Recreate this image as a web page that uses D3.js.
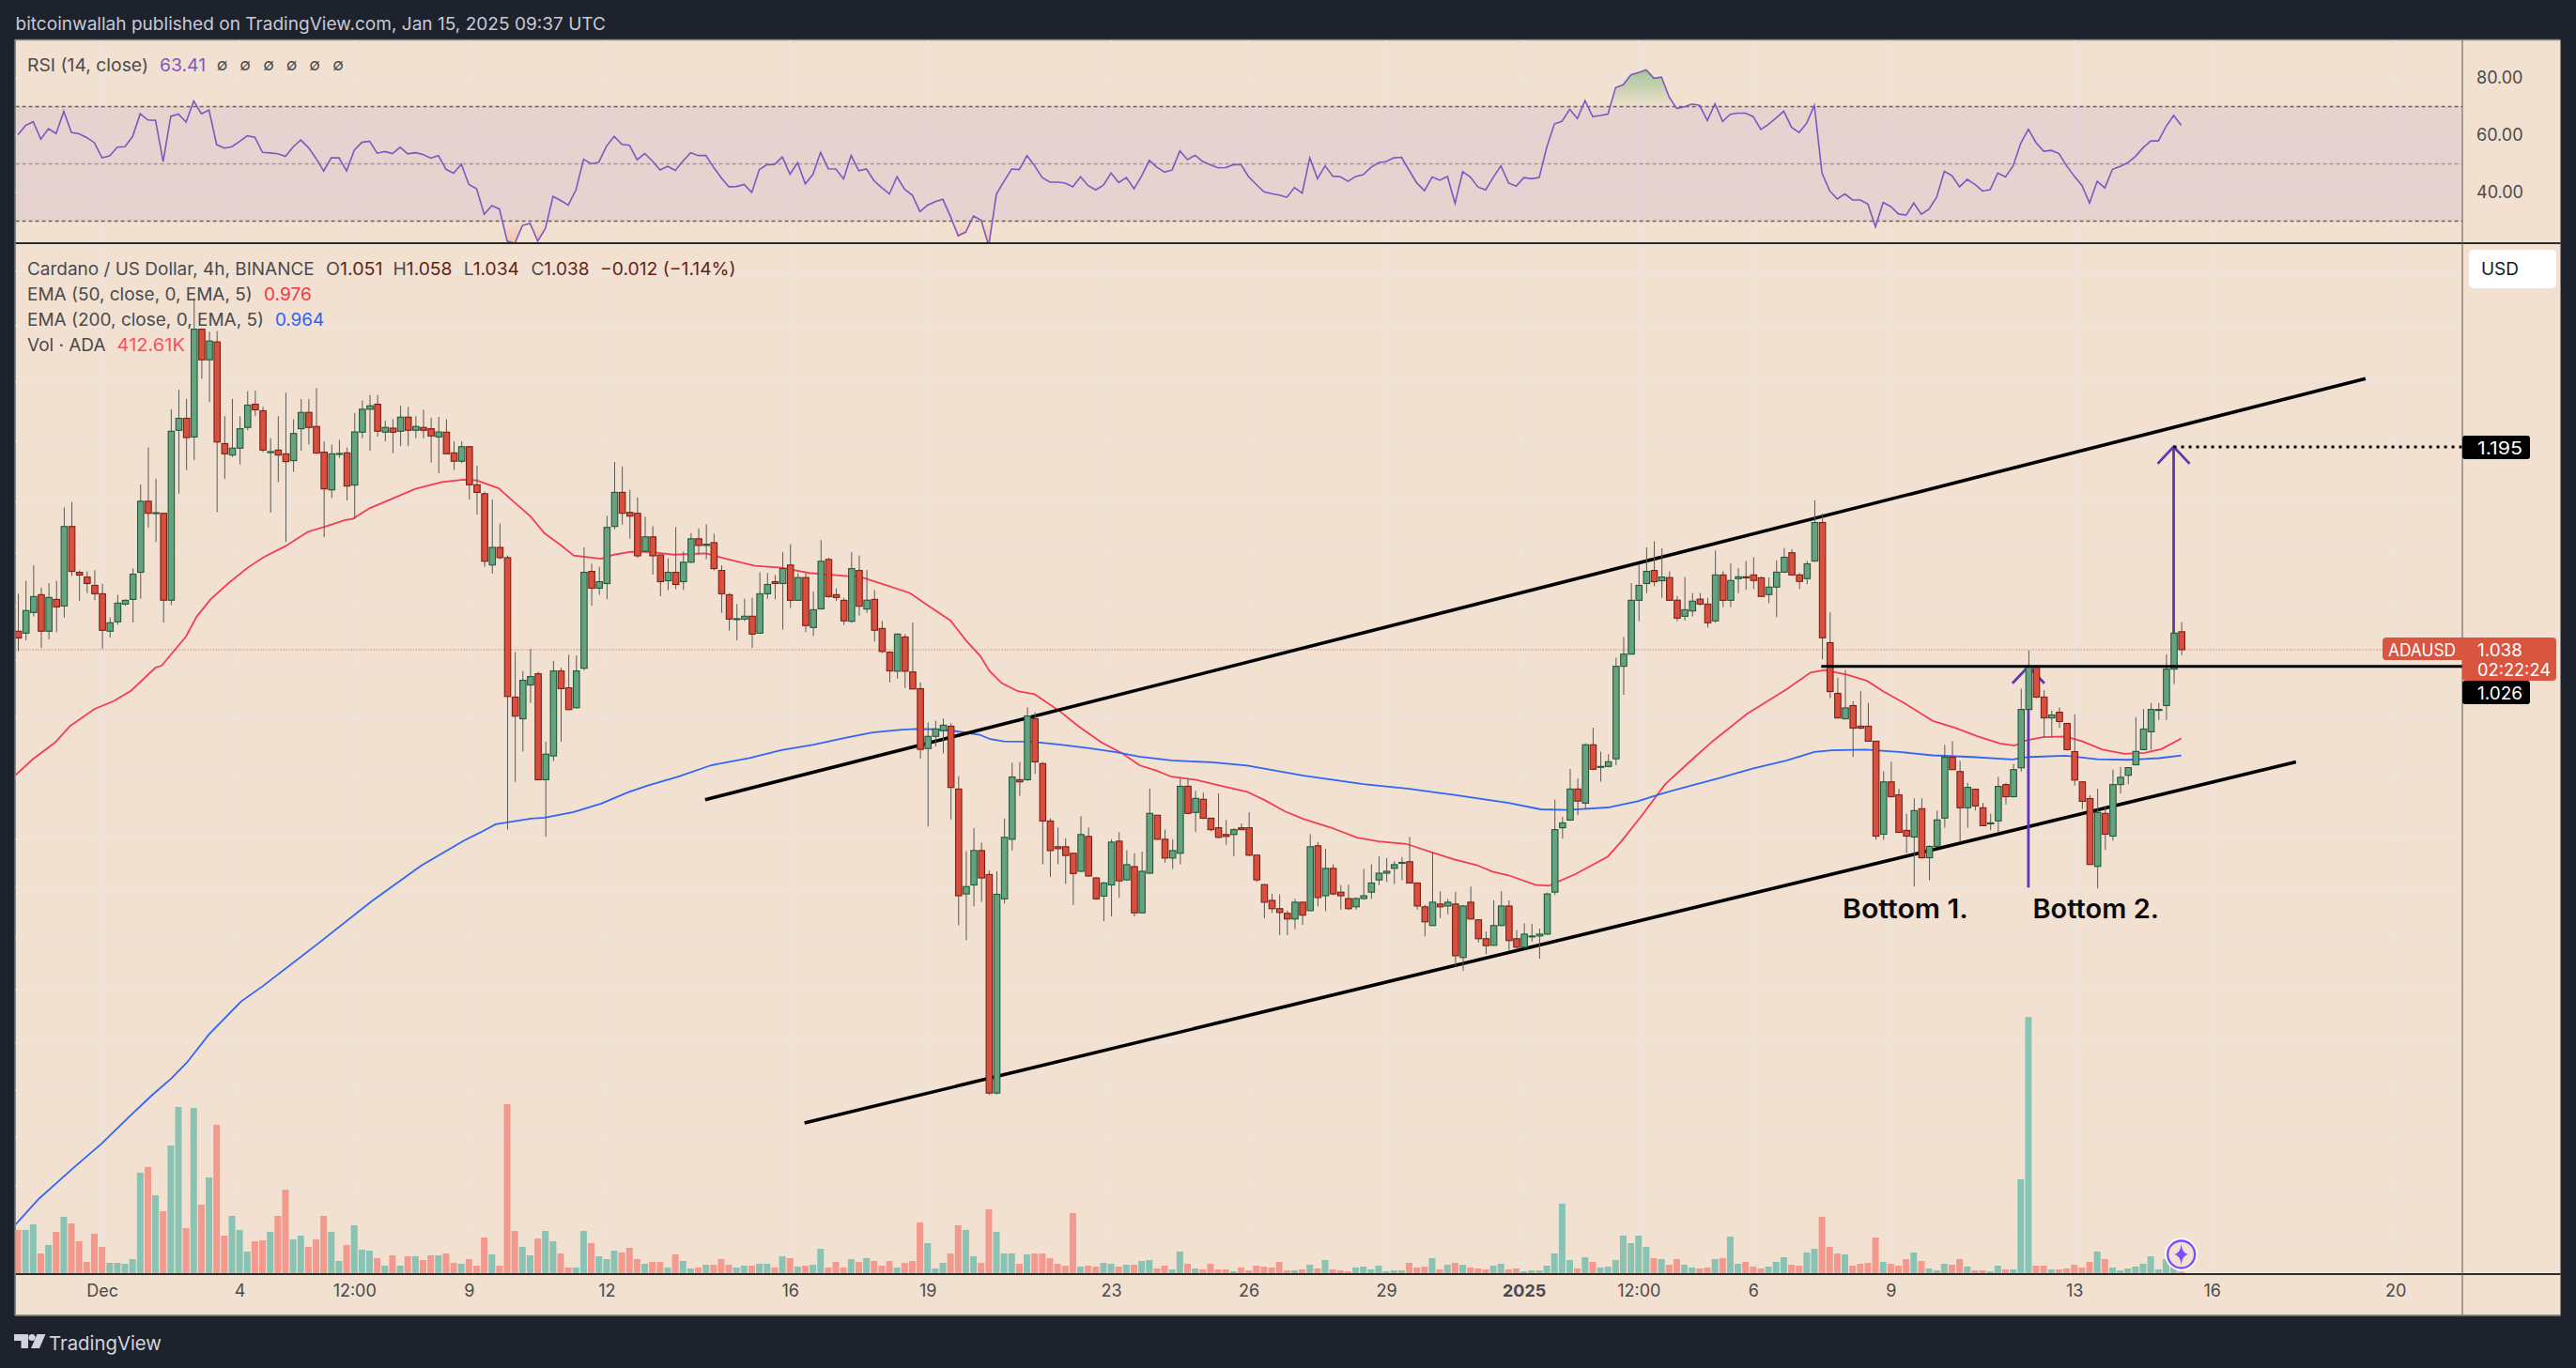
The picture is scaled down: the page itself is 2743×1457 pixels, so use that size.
<!DOCTYPE html>
<html><head><meta charset="utf-8">
<script src="https://cdn.jsdelivr.net/npm/d3@7/dist/d3.min.js"></script>
<style>
html,body{margin:0;padding:0;background:#1e222d;overflow:hidden}
svg{display:block}
text{font-family:Inter,"Noto Sans",sans-serif}
</style></head><body><svg id="c" width="2743" height="1457"></svg>
<script>
const firstBar=-11; // bars counted from Dec 1 00:00, one per 4 hours
const directions="rggrgrgrrrr"+"rgggggrgrg"+"grgrgrrggg"+"rrgrrggrrr"+"ggrgggrgrg"+"rgrrgrrgrr"+"rgrrrggrgg"+"rrggrgggrr"+"rgrrgrggrg"+"rrrggrggrg"+"rgrggrrrgr"+"grrrgrrrgg"+"grrggrrggg"+"rgrrrrrrgr"+"rggrgrggrr"+"ggrgrrrrgr"+"rrrrrrgrgr"+"grrrgggggg"+"grrrgrgrgr"+"rrggrrgggg"+"gggrgrgggg"+"gggrgrrggr"+"rgrggrrrgg"+"grrggrrrgr"+"rrrgrrrgrg"+"ggrrgrrggr"+"gggrrgrrrr"+"rgrggggggg"+"ggr";
const bodyTop=[1.0514,1.0666,1.0770,1.0784,1.0763,1.0749,1.1307,1.1307,1.0953,1.0917,1.0854,
1.0791,1.0576,1.0721,1.0742,1.0939,1.1507,1.1507,1.1416,1.1411,1.2080,
1.2189,1.2189,1.2967,1.2967,1.2861,1.2853,1.1977,1.1939,1.2101,1.2301,
1.2309,1.2253,1.1910,1.1923,1.1892,1.2061,1.2239,1.2239,1.2120,1.1906,
1.1892,1.1895,1.1900,1.2074,1.2266,1.2295,1.2309,1.2112,1.2106,1.2199,
1.2199,1.2120,1.2112,1.2101,1.2074,1.2072,1.1900,1.1951,1.1951,1.1639,
1.1567,1.1144,1.1144,1.1065,1.0044,1.0162,1.0188,1.0208,.9654,1.0228,
1.0228,1.0109,1.0228,1.0953,1.0960,1.0882,1.1300,1.1578,1.1578,1.1418,
1.1411,1.1226,1.1226,1.1086,1.0953,1.0953,1.1030,1.1211,1.1211,1.1169,
1.1181,1.0967,1.0784,1.0606,1.0624,1.0624,1.0791,1.0861,1.0882,1.0981,
1.1009,1.0913,1.0913,1.0672,1.1037,1.1051,1.0784,1.0742,1.0981,1.0967,
1.0743,1.0749,1.0534,1.0362,1.0493,1.0472,1.0221,1.0103,.9774,.9824,
.9850,.9843,.9423,.8806,.9029,.9029,.8880,.8759,.9112,.9502,
.9484,.9913,.9894,.9591,.9216,.9053,.9053,.9012,.9130,.9118,
.8859,.8828,.9082,.9088,.8941,.8929,.8900,.9265,.9253,.91,
.9029,.9441,.9441,.9362,.9356,.9234,.9173,.9130,.9161,.9173,
.9173,.9000,.8818,.8722,.8672,.8644,.8711,.8711,.9053,.9059,
.8918,.8918,.8772,.8733,.8733,.8750,.8828,.8888,.8900,.8941,
.8955,.8959,.8828,.8683,.8711,.8700,.8711,.8700,.8688,.8711,
.8605,.8493,.8571,.8688,.8688,.8493,.8520,.8509,.8520,.8761,
.9161,.9204,.9423,.9423,.9717,.9717,.9572,.9603,1.0261,1.0348,
1.0742,1.0854,1.0960,1.0967,1.0917,1.0913,1.0743,1.0672,1.0736,1.0751,
1.0714,1.0933,1.0933,1.0891,1.0919,1.0919,1.0933,1.0911,1.0841,1.0954,
1.1068,1.1103,1.0933,1.1018,1.1338,1.1338,1.0431,1.0070,.9969,.9985,
.9843,.9843,.9741,.9470,.9470,.9385,.9156,.9283,.9295,.9055,
.9223,.9633,.9633,.9538,.9434,.9422,.9301,.9204,.9440,.9452,
.9551,.9958,1.0261,1.0261,1.0044,.9920,.9939,.9862,.9671,.9470,
.9361,.9271,.9265,.9452,.95,.9564,.9672,.9824,.9958,.9958,
1.0241,1.05,1.051];
const bodyBottom=[1.0465,1.0500,1.0652,1.0514,1.0514,1.0693,1.0700,1.0960,1.0932,1.0868,1.0791,
1.0521,1.0514,1.0583,1.0714,1.0749,1.0953,1.1411,1.1411,1.0743,1.0743,
1.2088,1.2027,1.2032,1.2694,1.2694,1.1990,1.1892,1.1882,1.1939,1.2112,
1.2261,1.1923,1.1903,1.1882,1.1828,1.1836,1.2101,1.2112,1.1898,1.1606,
1.1598,1.1890,1.1629,1.1637,1.2072,1.2266,1.2080,1.2072,1.2072,1.2080,
1.2088,1.2088,1.2088,1.2040,1.2032,1.1892,1.1831,1.1831,1.1639,1.1578,
1.1037,1.1009,1.1065,1.0048,.9912,.9894,1.0129,.9484,.9484,.9642,
1.0103,.9957,.9970,1.0247,1.0833,1.0833,1.0868,1.1307,1.1411,1.1389,
1.1079,1.1115,1.1079,1.0882,1.0889,1.0861,1.0882,1.1030,1.1159,1.1159,
1.0981,1.0791,1.0603,1.0601,1.0603,1.0493,1.0500,1.0791,1.0868,1.0868,
1.0742,1.0742,1.0555,1.0541,1.0679,1.0770,1.0763,1.0590,1.0587,1.0698,
1.0677,1.0521,1.0367,1.0228,1.0226,1.0226,1.0101,.9686,.9692,.9774,
.9812,.9433,.8750,.8761,.8816,.8859,.763,.763,.8731,.91,
.9470,.9484,.9602,.9216,.9029,.9041,.8998,.8886,.8900,.8871,
.8731,.8748,.8816,.8841,.8847,.8647,.8647,.8888,.91,.8982,
.8982,.9012,.9265,.9271,.9234,.9161,.9112,.9118,.9130,.9161,
.9000,.8847,.8711,.8672,.8649,.8610,.8610,.8633,.8660,.8739,
.8750,.8761,.8750,.8672,.8683,.8733,.8772,.8847,.8888,.8918,
.8951,.8828,.8688,.8593,.8571,.8683,.8688,.8393,.8383,.8610,
.8493,.8452,.8454,.8571,.8482,.8443,.8443,.8504,.8509,.8520,
.8772,.9173,.9222,.9344,.9331,.9553,.9566,.9572,.9623,1.0261,
1.0348,1.0742,1.0868,1.0882,1.0889,1.0742,1.0610,1.0624,1.0663,1.0714,
1.0576,1.0590,1.0742,1.0742,1.0905,1.0911,1.0891,1.0771,1.0785,1.0841,
1.0954,1.0933,1.0884,1.0905,1.1039,1.0466,1.0083,.99,.9894,.9830,
.9830,.9741,.9120,.9132,.9373,.9144,.9120,.9114,.8984,.8984,
.9055,.9235,.9551,.9301,.9301,.9313,.9186,.9198,.9217,.9373,
.9373,.9563,.9958,1.0044,.99,.99,.9875,.9684,.9482,.9343,
.8942,.8930,.9132,.9120,.9452,.9513,.9583,.9684,.9805,.9956,
.9985,1.0241,1.038];
const highs=[1.0791,1.0889,1.1006,1.0838,1.0871,1.0889,1.1458,1.1502,1.0967,1.0960,1.0969,
1.0866,1.0615,1.0784,1.0749,1.0983,1.1642,1.1944,1.1688,1.1414,1.2266,
1.2433,1.2354,1.325,1.2967,1.2944,1.2950,1.2207,1.2354,1.2207,1.2420,
1.2426,1.2287,1.2021,1.2207,1.2407,1.2181,1.2354,1.2354,1.2447,1.1995,
1.1969,1.2008,1.1944,1.2234,1.2340,1.2388,1.2388,1.2168,1.2181,1.2295,
1.2287,1.2207,1.2261,1.2194,1.2202,1.2181,1.1995,1.1995,1.1956,1.1795,
1.1582,1.1520,1.1330,1.1081,1.0364,1.0228,1.0385,1.0223,.9738,1.03,
1.0250,1.0344,1.0339,1.1144,1.1018,1.0995,1.1391,1.1826,1.1788,1.1599,
1.1537,1.1384,1.1310,1.1088,1.1060,1.1302,1.1112,1.1255,1.1292,1.1324,
1.1250,1.1006,1.0796,1.0714,1.0754,1.0761,1.0953,1.0948,1.0932,1.1107,
1.1169,1.0946,1.0946,1.0807,1.1201,1.1065,1.0831,1.0761,1.1107,1.1081,
1.0971,1.0819,1.0590,1.0369,1.0500,1.0493,1.0578,1.0147,.9869,.9881,
.9896,.9864,.9506,.9026,.9171,.9080,.8904,.8900,.9232,.9596,
.9601,.9973,.9938,.9601,.9234,.9175,.9106,.9012,.9248,.9175,
.8865,.8834,.91,.9145,.9031,.9012,.9022,.9425,.9253,.9161,
.91,.9496,.9490,.9411,.9399,.9234,.9395,.9222,.9171,.9201,
.9273,.9000,.8818,.8763,.8759,.8660,.8731,.8711,.9132,.9082,
.9041,.8943,.8815,.8817,.8740,.8914,.8943,.8992,.8982,.8963,
.8988,.9114,.8828,.8694,.9022,.8778,.8731,.8774,.8694,.8806,
.8605,.8535,.8722,.8778,.8722,.8544,.8584,.8580,.8553,.8768,
.9354,.9242,.9555,.9492,.9728,.9833,.9671,.9654,1.0323,1.0472,
1.0871,1.1013,1.1144,1.1191,1.1137,1.0960,1.0775,1.0917,1.0796,1.0796,
1.0761,1.1120,1.0961,1.1020,1.0985,1.1039,1.1068,1.0921,1.0914,1.1044,
1.1139,1.1131,1.0949,1.1039,1.1514,1.1409,1.0652,1.0180,1.0234,1.0015,
1.0085,1.0004,.9741,.9540,.9604,.9424,.9263,.9363,.9363,.9063,
.9283,.9716,.9741,.9609,.9464,.9424,.9333,.9263,.9504,.9464,
.9589,1.0103,1.0374,1.0267,1.0092,.9950,.9972,.9864,.9924,.9470,
.9383,.9424,.9313,.9551,.9568,.9568,.9906,.9961,1.0004,1.0004,
1.0347,1.0576,1.058];
const lows=[1.0369,1.0449,1.0622,1.0392,1.0456,1.0507,1.0615,1.0925,1.0737,1.0796,1.0744,
1.0387,1.0468,1.0562,1.0702,1.0578,1.0754,1.1297,1.1186,1.0578,1.0706,
1.1567,1.1759,1.1841,1.2528,1.2327,1.1421,1.1688,1.1867,1.1805,1.2088,
1.2207,1.1905,1.1416,1.1662,1.1186,1.1744,1.1918,1.1969,1.1892,1.1223,
1.1533,1.1859,1.1513,1.1364,1.2021,1.1918,1.2035,1.1995,1.1898,1.1956,
1.1956,1.2021,1.2021,1.1821,1.1734,1.1887,1.1759,1.1816,1.1521,1.1401,
1.0995,1.0943,1.1053,.9161,.9470,.9671,1.0004,.9480,.9116,.9608,
.9738,.9955,.9965,1.0234,1.0702,1.0784,1.0749,1.1285,1.1322,1.1211,
1.1063,1.1107,1.0936,1.0773,1.0819,1.0826,1.0819,1.1023,1.1088,1.1053,
1.0967,1.0649,1.0518,1.0448,1.0587,1.0392,1.0495,1.0754,1.0749,1.0525,
1.0686,1.0737,1.0507,1.0479,1.0672,1.0761,1.0737,1.0560,1.0576,1.0629,
1.0649,1.0438,1.0357,1.0147,1.0173,1.0107,1.0101,.9623,.9181,.9707,
.9659,.9226,.8573,.8484,.8685,.8713,.762,.7622,.8703,.9029,
.9378,.9476,.9523,.8943,.8865,.8943,.8822,.8694,.8894,.8865,
.8726,.8597,.8625,.8737,.8841,.8625,.8642,.8884,.9096,.8953,
.8914,.8943,.9258,.9147,.9228,.9151,.9106,.9065,.8992,.9157,
.8992,.8835,.8614,.8647,.8515,.8515,.8549,.8575,.8657,.8685,
.8657,.8754,.8666,.8664,.8666,.8727,.8731,.8815,.8834,.8822,
.8846,.8828,.8666,.8507,.8571,.8616,.8638,.8333,.8306,.8607,
.8471,.8403,.8452,.8567,.8425,.8434,.8438,.8476,.8376,.8516,
.8755,.9104,.9218,.9253,.9293,.9548,.9472,.9566,.9580,1.0060,
1.0345,1.0587,1.0796,1.0847,1.0761,1.0737,1.0587,1.0592,1.0622,1.0702,
1.0541,1.0576,1.0691,1.0691,1.0796,1.0820,1.0827,1.0766,1.0721,1.0617,
1.0949,1.0926,1.0827,1.0863,1.1032,1.0312,1.0037,.9896,.9889,.9635,
.9822,.9741,.9096,.9096,.9367,.9142,.9013,.8806,.8978,.8845,
.9049,.9173,.9547,.9082,.9173,.9283,.9182,.9158,.9142,.9323,
.9367,.9537,.9950,1.0037,.9766,.9768,.9832,.9679,.9444,.9293,
.8940,.8796,.9033,.9092,.9394,.9454,.9579,.9680,.9684,.9885,
.9885,1.0136,1.034];
const volumes=[11.04,11.04,12.48,5.04,7.2,10.56,14.4,12.72,8.16,2.88,10.08,
6.72,2.64,2.64,2.4,3.6,25.68,27.12,19.92,15.84,32.64,
42.48,11.52,42.24,17.52,24.48,37.92,9.6,14.64,11.04,5.52,
8.16,8.4,10.56,14.64,21.36,8.64,9.6,6.72,8.64,14.64,
10.56,3.12,7.2,12.24,6,5.76,3.84,1.92,4.56,1.92,
4.32,4.32,3.36,4.56,4.56,5.04,2.64,2.4,3.6,1.92,
9.12,4.8,1.92,43.2,10.8,6.72,4.56,8.88,10.8,8.16,
5.04,1.44,1.44,10.8,7.68,4.32,3.6,5.76,5.28,6.48,
3.6,2.4,2.88,2.88,1.44,4.8,3.12,1.2,1.44,2.16,
2.16,3.6,2.16,1.44,1.92,1.92,2.4,2.4,1.44,4.32,
3.84,1.68,1.92,2.16,6.24,1.44,2.88,1.44,3.6,2.88,
3.84,3.12,1.92,3.12,1.44,2.64,3.12,12.96,7.68,1.2,
2.64,5.04,12.24,11.04,4.32,2.64,16.32,10.56,5.04,5.04,
2.4,4.8,5.04,5.04,3.84,2.4,1.92,15.36,1.68,1.92,
1.68,2.64,2.4,1.68,2.16,2.16,3.12,3.36,1.2,1.92,
.96,5.52,2.4,1.2,.96,2.4,.96,.96,.48,1.44,
.72,1.92,1.68,1.44,2.88,.72,.72,.96,2.16,1.2,
3.36,.96,.72,.48,1.44,1.68,.96,1.92,.48,.72,
.72,2.64,1.44,1.68,3.84,.96,2.16,2.64,2.16,1.44,
1.2,.96,1.92,2.4,.96,1.2,.48,.72,.72,1.92,
5.04,17.76,3.36,1.2,4.08,2.88,1.44,1.68,3.36,9.6,
7.68,9.6,6.72,3.84,3.6,2.16,3.6,2.16,1.44,1.2,
1.44,3.6,3.84,9.36,2.4,2.88,1.68,1.2,1.68,2.88,
4.08,2.16,1.92,5.28,6.24,14.4,6.72,5.04,4.8,1.92,
2.4,2.64,9.12,2.88,2.4,1.92,3.6,5.28,3.12,1.2,
.72,2.4,2.16,3.6,1.68,.72,.72,.48,1.92,.96,
.96,24,65.52,1.92,1.92,.96,.96,1.2,2.16,1.44,
2.88,5.52,3.6,1.44,.72,1.2,1.68,2.4,4.32,.96,
3.6,2.4,.41];
const rsi=[60.2,63.4,64.7,58.6,62.3,60.6,68.3,61,60.5,59.2,57.4,
52.1,52.8,55.8,56,59.5,67.5,65.3,65.2,50.8,66.6,
67.4,64.6,71.9,67.5,68.8,56.7,55.5,56,57.8,59.8,
59.3,54,53.8,53.5,52.6,55.9,58.3,55.7,51.9,47.5,
52.1,52.1,47.5,54.8,57.5,57.9,53.7,54.3,53.6,55.8,
53.5,53.9,53.3,52,52.9,48.1,46.7,49.9,42.8,41.3,
32.4,35.4,34.2,23,22.2,28.5,29.2,23,27.4,38.6,
37.2,35.6,40.9,51.6,50,50.6,56.2,59.6,56.8,56.5,
51.4,53.6,51,47.9,49.1,47.7,51,53.9,52.9,52.9,
48.8,45.2,42,42.1,42.8,40,48,49.7,49.8,52.4,
46.4,50.4,43,46.3,54,48.3,48.2,44.7,52.9,47.6,
48.2,44.1,41.7,39.5,45.5,41.1,39.1,33.3,35.6,36.8,
37.6,31.6,24.9,26.2,31.8,30.3,21.4,39.5,43.9,48.2,
48,52.9,49.3,45.2,43.6,43.6,43.3,42,45.5,42.4,
40.9,42.6,46.8,43.5,45.2,41.3,45.8,51.2,48.8,47.1,
47.9,54.5,51.5,53,50.8,49.7,48.6,48.7,49.7,49.7,
45.5,42.8,40.2,39.6,39.1,38.3,41.7,39.8,52.1,44.8,
49.3,45.7,45.5,43.9,45.6,46.2,48.8,50.4,50.8,52.1,
52.3,47.7,43.3,40.6,45.4,44.3,45.6,36.2,47.3,45.4,
41.9,40.9,45.3,49.3,43.3,42.2,45.2,44.8,45.2,55.9,
63.9,64.9,69,65.8,72.1,66.5,66.9,67.4,76.6,77.6,
81.1,81.9,82.8,79.9,80.3,73.4,69.3,69.9,70.9,70.4,
65.1,71,64.8,67.3,67.7,67.7,66.5,62,63.8,66,
68.4,62.8,60.9,64.2,70.4,46.8,40.6,37.7,39.5,37.4,
37.4,36,28,36.5,35.1,32.5,32.1,36.3,32.4,34.2,
38.4,47.4,45.9,42,44.6,42.8,40.5,41,46.8,45.4,
49.3,57.2,62.1,57.4,54.4,54.7,53.6,49.3,45.7,42.5,
36.3,43.9,41.6,48.1,49.1,50.4,52.6,55.6,58,58,
63,66.9,63.41];
const ema50Bars=[-11.4,-9,-6.1,-4.2,-1,1.5,3.8,7,7.8,9.6,11,12.4,14.2,16.6,19.1,21.2,24,26.9,29,31.8,32.8,35,37.4,41,44.5,47.3,49,51.9,54,56.1,57.9,60,61.7,65.3,67,69.2,72,74.8,79,81.5,85.4,88.9,92.5,97.2,99.3,102.9,105.7,107.8,111,113,114.9,116.1,117.7,119.8,122,125.4,127.6,130.7,133.5,135.7,137.8,139.9,143,146.6,149.8,152.2,154.7,157.2,160.7,164.2,167,170.6,174.1,176.9,179.8,181.9,184,187.5,189.3,192.8,197,198.8,201.6,204.5,207.8,210.7,215.2,220.3,223.5,225.3,228.3,230.9,233.1,235.7,239.5,242.4,245.3,248.3,250.2,251.7,253.9,256.8,259,261.7,264.6,267.2,269.4,272];
const ema50Values=[.9511,.9622,.9734,.9843,.9961,1.0016,1.0088,1.0252,1.0265,1.0383,1.0477,1.0622,1.0749,1.0873,1.0990,1.1070,1.1154,1.1265,1.1302,1.1357,1.1367,1.1451,1.1512,1.1606,1.1662,1.1680,1.1675,1.1611,1.1495,1.1384,1.1253,1.1162,1.1081,1.1056,1.1088,1.1110,1.1107,1.1088,1.1098,1.1058,1.1002,1.0988,1.0948,1.0925,1.0917,1.0850,1.0796,1.0714,1.0592,1.0449,1.0334,1.0228,1.0142,1.0085,1.0064,.9942,.9848,.9734,.9658,.9580,.9547,.9504,.9484,.9441,.9405,.9348,.9279,.9228,.9175,.9110,.9086,.9071,.9016,.8973,.8939,.8898,.8875,.8817,.8811,.8884,.8992,.9090,.9262,.9455,.9608,.9741,.9928,1.0096,1.0217,1.0234,1.0201,1.0158,1.0081,1.0004,.9879,.9832,.9775,.9726,.9711,.9747,.9769,.9773,.9741,.9684,.9656,.9663,.9688,.9760];
const ema200Bars=[-11.3,-8.25,-3.67,-.1,3.5,6.5,9.1,11.1,14,18.2,21.1,28,35.3,41.7,47.3,49.4,51.5,56.1,57.9,61.7,65.3,68.8,71.3,75.5,79.7,84.7,88.9,93.1,97.2,100.8,104.3,106.4,108.9,111.3,114.8,116.2,118,121.5,125.4,128.9,132.5,135.7,139.9,145.2,149.8,157.2,165,171,176.9,184,188.2,191.7,197,200.9,203.7,207.8,211.5,215.9,220.3,224,226.3,230.7,235.1,239.5,244.7,249.9,252.1,256.9,261,265,269.1,272];
const ema200Values=[.6964,.7090,.7246,.7365,.7503,.7617,.7709,.7793,.7947,.8131,.8220,.8455,.8717,.8933,.9090,.9141,.9195,.9232,.9238,.9273,.9328,.9401,.9445,.9506,.9580,.9628,.9682,.9717,.9763,.9801,.9818,.9824,.9822,.9812,.9785,.9755,.9740,.9738,.9717,.9696,.9669,.9637,.9612,.9599,.9578,.9511,.9455,.9425,.9384,.9333,.9291,.9287,.9303,.9344,.9388,.9445,.9494,.9557,.9610,.9669,.9680,.9684,.9669,.9646,.9635,.9618,.9635,.9643,.9620,.9616,.9627,.9645];
const priceTicks=[1.35,1.30,1.25,1.20,1.15,1.11,1.07,1.03,.99,.95,.91,.88,.85,.82,.79,.765,.74,.715,.693,.673];
const hiddenPriceLabels=[1.35,1.03];
const rsiTicks=[80,60,40];
const dateTickBars=[0,18,33,48,66,90,108,132,150,168,186,201,216,234,258,276,300];
const dateTickLabels=["Dec","4","12:00","9","12","16","19","23","26","29","2025","12:00","6","9","13","16","20"];
const upperChannelBars=[78.9,296.1], upperChannelPrices=[.9354,1.2529];
const lowerChannelBars=[91.9,287], lowerChannelPrices=[.7473,.9602];
const necklinePrice=1.026, necklineStartBar=224.9, lastPrice=1.038, targetPrice=1.195;
const measureBar1=252, measureBar2=271, measureLow=.88, measureBase2=1.05;

const W=2743,H=1457,L=16.6,R=2622,T=43,RSIB=259,PB=1357,FB=1400.5,FR=2726.5;
const BG="#f2e0d0",GRID="#ece4e1",TXT="#4b4a4c",UPF="#66a27f",UPB="#1e5b3c",DNF="#d84f3d",DNB="#7d1f18";
const svg=d3.select("#c");
const x=d3.scaleLinear().domain([0,272]).range([108.6,2322.7]);
const y=d3.scaleLog().domain([.673,1.3]).range([1356.7,346.7]);
const yR=d3.scaleLinear().domain([40,80]).range([205,83]);
const yV=d3.scaleLinear().domain([0,65.52]).range([1356,1083]);
const bars=bodyTop.map((t,k)=>({i:firstBar+k,t,b:bodyBottom[k],h:highs[k],l:lows[k],up:directions[k]==="g",v:volumes[k],r:rsi[k]}));

const defs=svg.append("defs");
defs.append("clipPath").attr("id","rsiClip").append("rect").attr("x",L).attr("y",T).attr("width",R-L).attr("height",RSIB-T);
defs.append("clipPath").attr("id","priceClip").append("rect").attr("x",L).attr("y",RSIB).attr("width",R-L).attr("height",PB-RSIB);
defs.append("clipPath").attr("id","axisClip").append("rect").attr("x",R).attr("y",RSIB).attr("width",FR-R).attr("height",PB-RSIB);
const gOB=defs.append("linearGradient").attr("id","ob").attr("gradientUnits","userSpaceOnUse").attr("x1",0).attr("x2",0).attr("y1",yR(83)).attr("y2",yR(70));
gOB.append("stop").attr("offset","0%").attr("stop-color","#6fb36f").attr("stop-opacity",.6);
gOB.append("stop").attr("offset","100%").attr("stop-color","#6fb36f").attr("stop-opacity",.03);
const gOS=defs.append("linearGradient").attr("id","os").attr("gradientUnits","userSpaceOnUse").attr("x1",0).attr("x2",0).attr("y1",yR(30)).attr("y2",yR(22));
gOS.append("stop").attr("offset","0%").attr("stop-color","#f58f7c").attr("stop-opacity",.03);
gOS.append("stop").attr("offset","100%").attr("stop-color","#f58f7c").attr("stop-opacity",.4);
defs.append("clipPath").attr("id","aboveOB").append("rect").attr("x",L).attr("y",T).attr("width",R-L).attr("height",yR(70)-T);
defs.append("clipPath").attr("id","belowOS").append("rect").attr("x",L).attr("y",yR(30)).attr("width",R-L).attr("height",RSIB-yR(30));

// frame
svg.append("rect").attr("width",W).attr("height",H).attr("fill","#1e222d");
svg.append("rect").attr("x",L).attr("y",T).attr("width",FR-L).attr("height",FB-T).attr("fill",BG);
svg.append("path").attr("d",`M${L-.5},${FB+.5}V${T-.5}H${FR}`).attr("fill","none").attr("stroke","#8e8c88").attr("stroke-width",1.5);
svg.append("path").attr("d",`M${L-.5},${FB+.5}H${FR}`).attr("fill","none").attr("stroke","#8e8c88").attr("stroke-width",1.5);

// grid
const gg=svg.append("g").attr("stroke",GRID).attr("stroke-width",1.5);
gg.selectAll("line.v").data(dateTickBars).join("line").attr("x1",d=>x(d)).attr("x2",d=>x(d)).attr("y1",T).attr("y2",PB);
gg.selectAll("line.h").data(priceTicks).join("line").attr("x1",L).attr("x2",R).attr("y1",d=>y(d)).attr("y2",d=>y(d));
gg.selectAll("line.r").data(rsiTicks).join("line").attr("x1",L).attr("x2",R).attr("y1",d=>yR(d)).attr("y2",d=>yR(d));

// RSI pane
const rg=svg.append("g").attr("clip-path","url(#rsiClip)");
rg.append("rect").attr("x",L).attr("y",yR(70)).attr("width",R-L).attr("height",yR(30)-yR(70)).attr("fill","#7e57c2").attr("opacity",.1);
const hl=[[70,"#6c5d60"],[50,"#a3979a"],[30,"#6c5d60"]];
rg.selectAll("line.b").data(hl).join("line").attr("x1",L).attr("x2",R).attr("y1",d=>yR(d[0])).attr("y2",d=>yR(d[0]))
  .attr("stroke",d=>d[1]).attr("stroke-width",1.3).attr("stroke-dasharray","4 3");
const areaOB=d3.area().x(d=>x(d.i)).y0(yR(70)).y1(d=>yR(d.r));
rg.append("g").attr("clip-path","url(#aboveOB)").append("path").datum(bars).attr("d",areaOB).attr("fill","url(#ob)");
rg.append("g").attr("clip-path","url(#belowOS)").append("path").datum(bars).attr("d",areaOB.y0(yR(30))).attr("fill","url(#os)");
rg.append("path").datum(bars).attr("d",d3.line().x(d=>x(d.i)).y(d=>yR(d.r))).attr("fill","none").attr("stroke","#7e57c2").attr("stroke-width",1.6);

// price pane
const pg=svg.append("g").attr("clip-path","url(#priceClip)");
pg.selectAll("rect.vol").data(bars).join("rect").attr("x",d=>x(d.i)-3.5).attr("width",7)
  .attr("y",d=>yV(d.v)).attr("height",d=>yV(0)-yV(d.v)).attr("fill",d=>d.up?"#8ac3b3":"#f3998d");
pg.append("line").attr("x1",L).attr("x2",R).attr("y1",y(lastPrice)).attr("y2",y(lastPrice)).attr("stroke","#d4503c").attr("stroke-width",1).attr("stroke-dasharray","1 2");
const ln=d3.line().x(d=>x(d[0])).y(d=>y(d[1]));
pg.append("path").datum(ema50Bars.map((b,k)=>[b,ema50Values[k]])).attr("d",ln).attr("fill","none").attr("stroke","#f23d52").attr("stroke-width",1.8);
pg.append("path").datum(ema200Bars.map((b,k)=>[b,ema200Values[k]])).attr("d",ln).attr("fill","none").attr("stroke","#2f66f5").attr("stroke-width",1.8);
[[upperChannelBars,upperChannelPrices],[lowerChannelBars,lowerChannelPrices]].forEach(([a,b])=>{
  pg.append("path").datum(a.map((v,k)=>[v,b[k]])).attr("d",ln).attr("fill","none").attr("stroke","#000").attr("stroke-width",3.6);
});
const arrow=(bar,p0,p1)=>{
  const X=x(bar),Y0=y(p0),Y1=y(p1);
  pg.append("line").attr("x1",X).attr("x2",X).attr("y1",Y0).attr("y2",Y1).attr("stroke","#5b3ab0").attr("stroke-width",2.8);
  pg.append("path").attr("d",`M${X-17},${Y1+18}L${X},${Y1}L${X+17},${Y1+18}`).attr("fill","none").attr("stroke","#5b3ab0").attr("stroke-width",2.8);
};
arrow(measureBar1,measureLow,necklinePrice);
arrow(measureBar2,measureBase2,targetPrice);
// candles
pg.selectAll("line.wick").data(bars).join("line").attr("x1",d=>x(d.i)+.5).attr("x2",d=>x(d.i)+.5).attr("y1",d=>y(d.h)).attr("y2",d=>y(d.l)).attr("stroke","#5a5a58").attr("stroke-width",1);
pg.selectAll("rect.c").data(bars).join("rect").attr("x",d=>x(d.i)-2.75).attr("width",6.5)
  .attr("y",d=>y(d.t)).attr("height",d=>Math.max(1,y(d.b)-y(d.t)))
  .attr("fill",d=>d.up?UPF:DNF).attr("stroke",d=>d.up?UPB:DNB).attr("stroke-width",1.1);
// neckline and target
pg.append("line").attr("x1",x(necklineStartBar)).attr("x2",R).attr("y1",y(necklinePrice)).attr("y2",y(necklinePrice)).attr("stroke","#000").attr("stroke-width",3);
pg.append("line").attr("x1",x(measureBar2)).attr("x2",R).attr("y1",y(targetPrice)).attr("y2",y(targetPrice)).attr("stroke","#000").attr("stroke-width",3).attr("stroke-dasharray","3 5");
// text notes
const fit=(e,w)=>e.attr("textLength",w).attr("lengthAdjust","spacingAndGlyphs");
const note=(t,xx,yy,w)=>fit(svg.append("text").attr("x",xx).attr("y",yy).attr("font-size",28).attr("font-weight",600).attr("fill","#0b0b0b").text(t),w);
note("Bottom 1.",1962,978,134);
note("Bottom 2.",2164.5,978,134.5);

// separators
svg.append("line").attr("x1",L).attr("x2",FR).attr("y1",RSIB).attr("y2",RSIB).attr("stroke","#2a2a2a").attr("stroke-width",1.8);
svg.append("line").attr("x1",L).attr("x2",FR).attr("y1",PB).attr("y2",PB).attr("stroke","#2a2a2a").attr("stroke-width",1.8);
svg.append("line").attr("x1",R).attr("x2",R).attr("y1",T).attr("y2",FB).attr("stroke","#5d5a58").attr("stroke-width",1);

// axes
const styleAxis=g=>{g.select(".domain").remove();g.selectAll(".tick line").remove();g.selectAll("text").attr("font-family","Inter").attr("font-size",18).attr("fill",TXT);};
svg.append("g").attr("clip-path","url(#axisClip)").attr("transform","translate(2637,0)")
  .call(d3.axisRight(y).tickValues(priceTicks.filter(p=>!hiddenPriceLabels.includes(p))).tickFormat(d3.format(".3f")).tickSize(0).tickPadding(0)).call(styleAxis);
svg.append("g").attr("transform","translate(2637,0)")
  .call(d3.axisRight(yR).tickValues(rsiTicks).tickFormat(d3.format(".2f")).tickSize(0).tickPadding(0)).call(styleAxis);
const xa=svg.append("g").attr("transform",`translate(0,1368)`)
  .call(d3.axisBottom(x).tickValues(dateTickBars).tickFormat((d,k)=>dateTickLabels[k]).tickSize(0).tickPadding(0)).call(styleAxis);
xa.selectAll("text").attr("font-weight",d=>d===186?700:400);

// price labels
const rr=(xx,yy,w,h,r,f)=>svg.append("rect").attr("x",xx).attr("y",yy).attr("width",w).attr("height",h).attr("rx",r).attr("fill",f);
const lbl=(t,xx,yy,f,s=18.5,a="start",w=400)=>svg.append("text").attr("x",xx).attr("y",yy).attr("font-size",s).attr("fill",f).attr("text-anchor",a).attr("font-weight",w).attr("dominant-baseline","central").text(t);
rr(2537,679,90,24,4,"#d9553f");
rr(2622,679,100,46,4,"#d9553f");
rr(2622,725,72,25,3,"#000");
rr(2622,464,72,25,3,"#000");
rr(2629,266,93,41,5,"#fff");
fit(lbl("ADAUSD",2543,691.5,"#fff"),72);
fit(lbl("1.038",2638,691.5,"#fff"),48);
fit(lbl("02:22:24",2638,713,"#fff"),78);
fit(lbl("1.026",2638,737.5,"#fff"),48);
fit(lbl(d3.format(".3f")(targetPrice),2638,476.5,"#fff"),48);
fit(lbl("USD",2642,286.5,"#131722",19),40);

// legends
fit(lbl("bitcoinwallah published on TradingView.com, Jan 15, 2025 09:37 UTC",16.5,25,"#c6c9d6"),628.5);
fit(lbl("RSI (14, close)",29,68.5,TXT),129);
fit(lbl(d3.format(".2f")(rsi[rsi.length-1]),170,68.5,"#7e57c2"),49);
[236.5,261,286,310.5,335,360].forEach(v=>lbl("∅",v,69,"#4b4a4c",17,"middle"));
const DK="#641f15";
fit(lbl("Cardano / US Dollar, 4h, BINANCE",29,286,TXT),305.7);
[["O",347,"1.051",60.5],["H",418.5,"1.058",63],["L",493.7,"1.034",59.3],["C",565.4,"1.038",62]].forEach(([a,v,t,w])=>{
  const e=lbl(a,v,286,TXT);
  e.append("tspan").attr("fill",DK).text(t);
  fit(e,w);
});
fit(lbl("−0.012 (−1.14%)",639,286,DK),144.6);
fit(lbl("EMA (50, close, 0, EMA, 5)",29,313,TXT),239.7);
fit(lbl("0.976",281,313,"#f23645"),50.8);
fit(lbl("EMA (200, close, 0, EMA, 5)",29,340,TXT),252);
fit(lbl("0.964",293,340,"#2962ff"),52);
fit(lbl("Vol · ADA",29,367,TXT),83.5);
fit(lbl("412.61K",124.6,367,"#f7525f"),72.3);

// assistant icon
const ic=svg.append("g").attr("transform",`translate(${x(272)},1336)`);
ic.append("circle").attr("r",17.5).attr("fill","#fff");
ic.append("circle").attr("r",14.5).attr("fill",BG).attr("stroke","#7b4dff").attr("stroke-width",2.4);
ic.append("path").attr("d","M0,-11C1,-3.5 3,-1.5 7.5,0C3,1.5 1,3.5 0,11C-1,3.5 -3,1.5 -7.5,0C-3,-1.5 -1,-3.5 0,-11Z").attr("fill","#7b4dff");

// footer logo
const lg=svg.append("g").attr("fill","#d1d4dc");
lg.append("path").attr("d","M15,1421H30V1436H22.5V1428H15Z");
lg.append("circle").attr("cx",34).attr("cy",1424.5).attr("r",3.6);
lg.append("path").attr("d","M39.5,1421H48.5L42,1436H33Z");
fit(lbl("TradingView",52,1430,"#d1d4dc",20.5),120);
</script></body></html>
